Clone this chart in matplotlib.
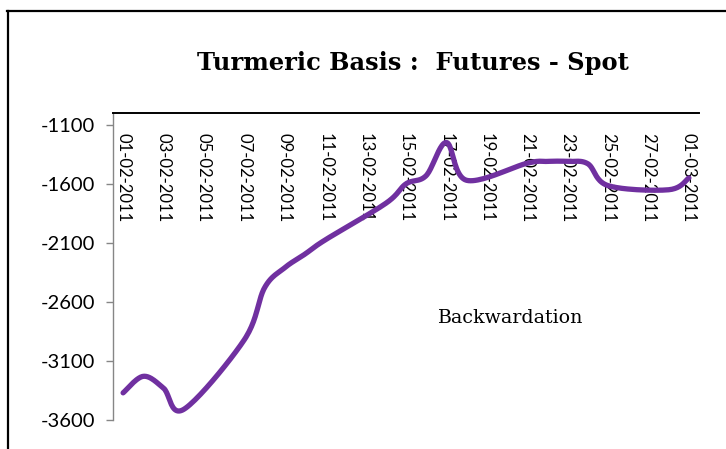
import numpy as np
import matplotlib
matplotlib.use("Agg")
import matplotlib.pyplot as plt
from matplotlib.lines import Line2D

# trading days (weekdays) and the basis value
dates = ['2011-02-01', '2011-02-02', '2011-02-03', '2011-02-04', '2011-02-07',
         '2011-02-08', '2011-02-09', '2011-02-10', '2011-02-11', '2011-02-14',
         '2011-02-15', '2011-02-16', '2011-02-17', '2011-02-18', '2011-02-21',
         '2011-02-22', '2011-02-23', '2011-02-24', '2011-02-25', '2011-02-28',
         '2011-03-01']
basis = [-3370, -3230, -3330, -3510, -2920,
         -2480, -2310, -2195, -2075, -1765,
         -1600, -1530, -1250, -1570, -1425,
         -1410, -1410, -1430, -1615, -1650,
         -1550]

yticks = [-3600, -3100, -2600, -2100, -1600, -1100]
title = "Turmeric Basis :  Futures - Spot"
note = "Backwardation"

start = np.datetime64('2011-02-01')
days = np.array([(np.datetime64(d) - start).astype(int) for d in dates], dtype=float)
vals = np.array(basis, dtype=float)


def smooth(x, y, sx, sy, n=24):
    # Excel-like smoothed line (Catmull-Rom Bezier) computed in screen-ish units
    P = np.column_stack([x * sx, y * sy])
    E = np.vstack([P[0], P, P[-1]])
    out = [P[:1]]
    t = np.linspace(0, 1, n)[1:, None]
    for i in range(len(P) - 1):
        p0, p1, p2, p3 = E[i], E[i + 1], E[i + 2], E[i + 3]
        c1 = p1 + (p2 - p0) / 6
        c2 = p2 - (p3 - p1) / 6
        seg = ((1 - t) ** 3) * p1 + 3 * ((1 - t) ** 2) * t * c1 + 3 * (1 - t) * t ** 2 * c2 + t ** 3 * p2
        out.append(seg)
    Q = np.vstack(out)
    return Q[:, 0] / sx, Q[:, 1] / sy


fig = plt.figure(figsize=(7.26, 4.49), dpi=100)
W, H = 726, 449
ax = fig.add_axes([113 / W, 1 - 420 / H, (699 - 113) / W, (420 - 113) / H])

sx_, sy_ = smooth(days, vals, 20.2, 59 / 500)
ax.plot(sx_, sy_, color='#7030A0', lw=3.8, solid_capstyle='round')

ax.set_xlim(-0.5, 28.5)
ax.set_ylim(-3600, -1000)
ax.set_yticks(yticks)
ax.set_yticklabels([str(v) for v in yticks], fontfamily='Lato', fontsize=14.5)

xt = np.arange(0, 29, 2)
xl = [(start + np.timedelta64(int(d), 'D')).astype(object).strftime('%d-%m-%Y') for d in xt]
ax.xaxis.tick_top()
ax.set_xticks(xt)
ax.set_xticklabels(xl, rotation=270, fontfamily='Lato', fontsize=12, ha='center')
ax.tick_params(axis='x', length=0, pad=-14.5, direction='in')
for lab in ax.get_xticklabels():
    lab.set_verticalalignment('top')
ax.tick_params(axis='y', length=5, color='#868686', pad=8, width=1)

for s in ['right', 'bottom']:
    ax.spines[s].set_visible(False)
ax.spines['left'].set_color('#868686')
ax.spines['left'].set_linewidth(1)
ax.spines['top'].set_color('black')
ax.spines['top'].set_linewidth(1.4)

fig.text(413 / W, 1 - 63 / H, title, ha='center', va='center',
         fontfamily='DejaVu Serif', fontweight='bold', fontsize=17.4)
fig.text(437 / W, 1 - 318 / H, note, ha='left', va='center',
         fontfamily='DejaVu Serif', fontsize=13.7)

# outer chart frame (cropped)
fig.add_artist(Line2D([7 / W, 1], [1 - 11 / H, 1 - 11 / H], color='black', lw=1.6, transform=fig.transFigure))
fig.add_artist(Line2D([8 / W, 8 / W], [0, 1 - 11 / H], color='black', lw=1.6, transform=fig.transFigure))

fig.savefig('out.png', dpi=100)
